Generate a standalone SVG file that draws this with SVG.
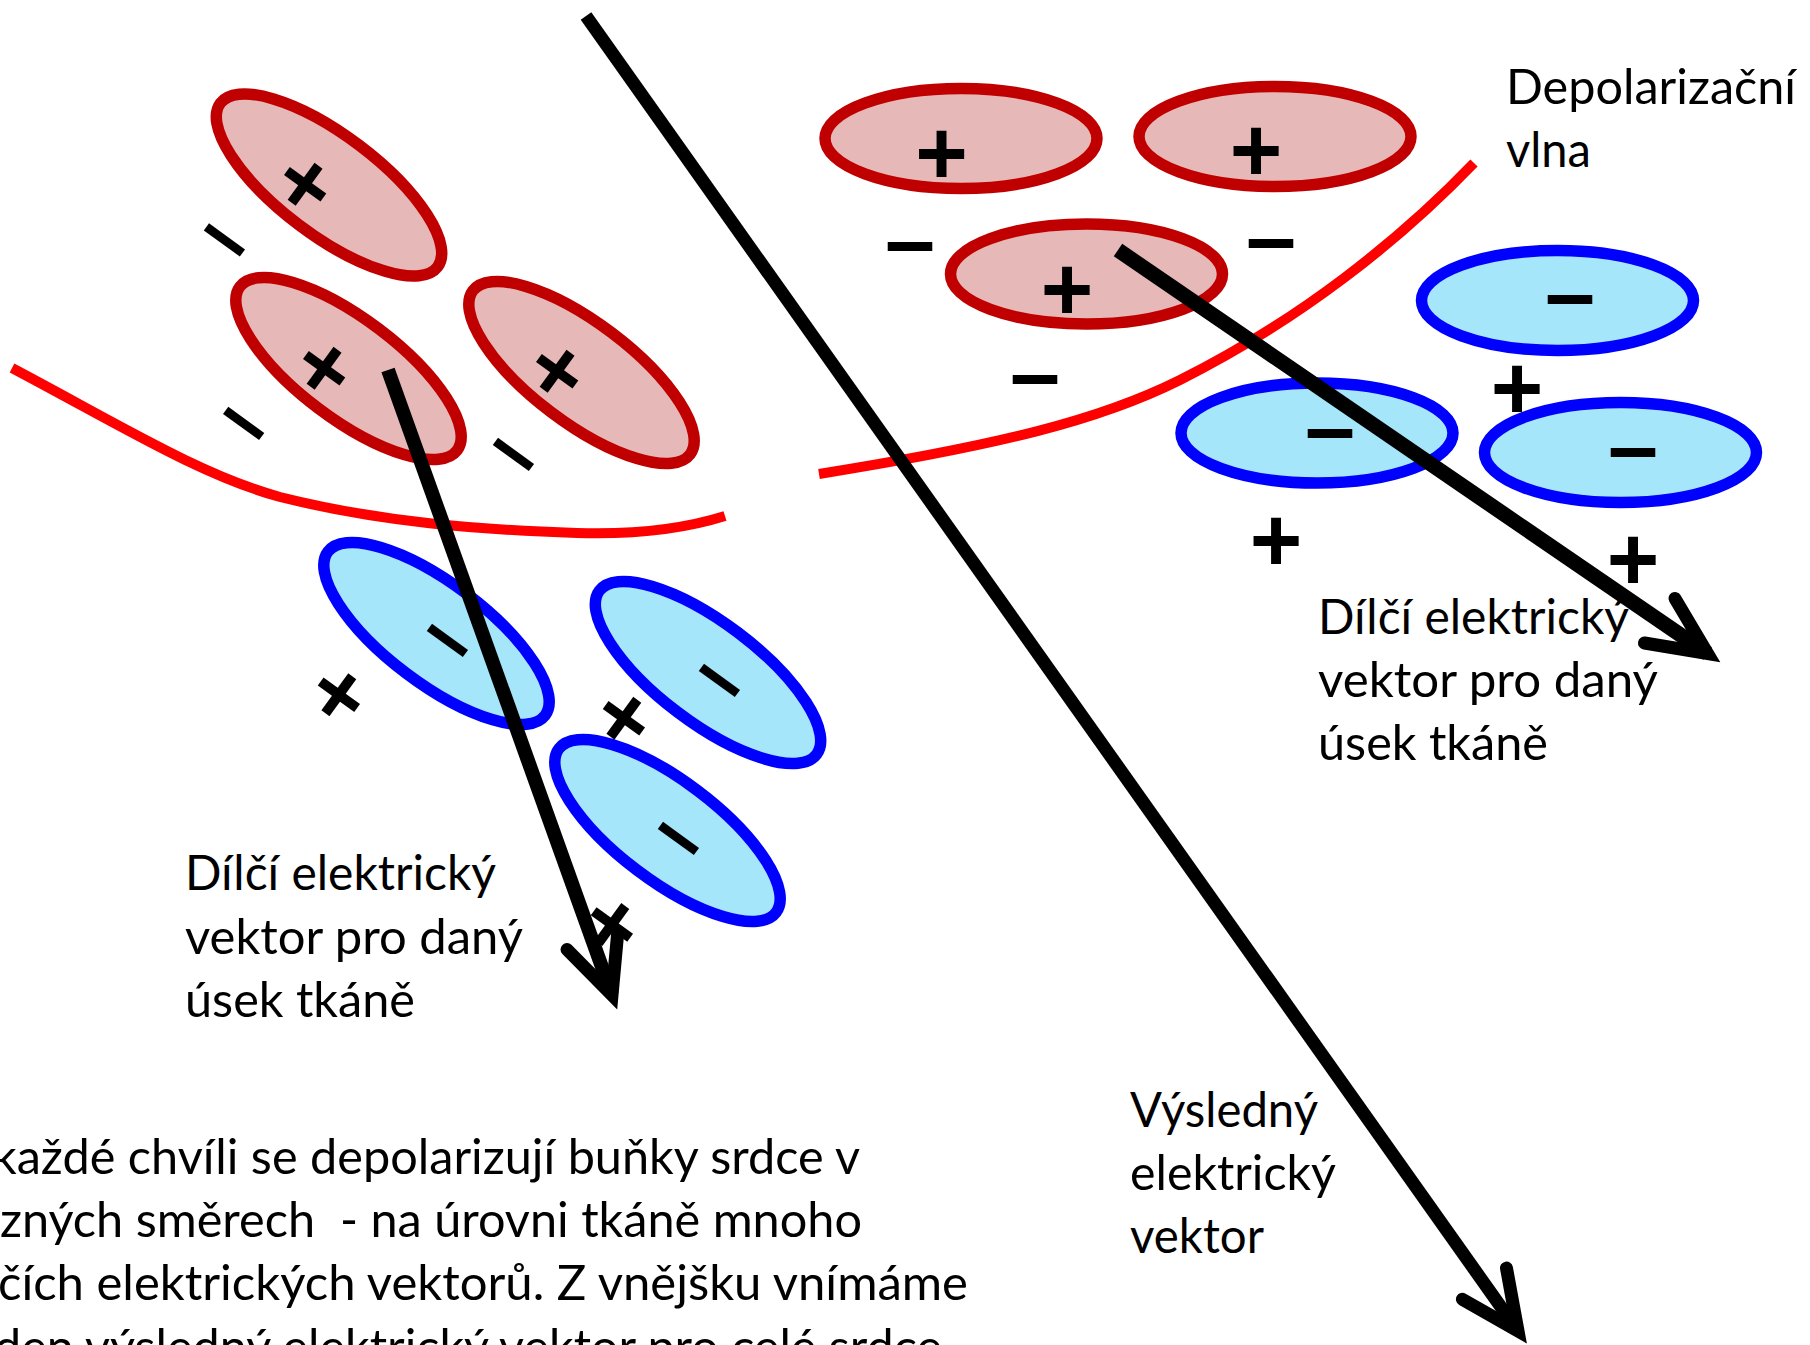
<svg xmlns="http://www.w3.org/2000/svg" width="1810" height="1345" viewBox="0 0 1810 1345">
<style>
.red{fill:#E6B9B8;stroke:#C00000;stroke-width:11.5}
.blue{fill:#A6E6FB;stroke:#0000FF;stroke-width:11.5}
.sg{font-family:"Liberation Sans",Arial,sans-serif;font-weight:bold;font-size:90px;text-anchor:middle;fill:#000}
.lbl{font-family:Lato,"Liberation Sans",sans-serif;font-size:48px;fill:#000}
.wave{fill:none;stroke:#FF0000;stroke-width:10}
.vec{fill:none;stroke:#000;stroke-linecap:butt;marker-end:url(#head)}
</style>
<defs>
<marker id="head" markerUnits="userSpaceOnUse" orient="auto" refX="0" refY="0" markerWidth="10" markerHeight="10" overflow="visible">
<path d="M -58 -27 L 0 0 L -58 27" fill="none" stroke="#000" stroke-width="13" stroke-linecap="round" stroke-linejoin="miter"/>
</marker>
</defs>
<rect width="1810" height="1345" fill="#fff"/>

<g id="waves">
<path class="wave" d="M 12 368 C 120 425, 200 475, 280 497 C 380 522, 480 530, 577 533 C 640 535, 690 527, 725 516"/>
<path class="wave" d="M 819 474 C 1000 445, 1100 420, 1180 380 C 1300 320, 1400 240, 1474 163"/>
</g>

<g id="cell-left-red-1"><ellipse class="red" cx="329" cy="185" rx="136" ry="50" transform="rotate(37 329 185)"/><text class="sg" x="306" y="214.5" transform="rotate(36 306 183)">+</text></g>
<g id="cell-left-red-2"><ellipse class="red" cx="348.5" cy="368.5" rx="136" ry="50" transform="rotate(37 348.5 368.5)"/><text class="sg" x="325" y="398.5" transform="rotate(36 325 367)">+</text></g>
<g id="cell-left-red-3"><ellipse class="red" cx="581.5" cy="372.5" rx="136" ry="50" transform="rotate(37 581.5 372.5)"/><text class="sg" x="558" y="401.5" transform="rotate(36 558 370)">+</text></g>
<g id="cell-left-blue-1"><ellipse class="blue" cx="436.5" cy="633.5" rx="136" ry="50" transform="rotate(37 436.5 633.5)"/><text class="sg" x="447" y="664.5" transform="rotate(36 447 641)">–</text></g>
<g id="cell-left-blue-2"><ellipse class="blue" cx="708" cy="672.5" rx="136" ry="50" transform="rotate(37 708 672.5)"/><text class="sg" x="719" y="704.5" transform="rotate(36 719 681)">–</text></g>
<g id="cell-left-blue-3"><ellipse class="blue" cx="667.5" cy="830.5" rx="136" ry="50" transform="rotate(37 667.5 830.5)"/><text class="sg" x="678" y="862.5" transform="rotate(36 678 839)">–</text></g>

<g id="charges-left">
<text class="sg" x="224" y="264" transform="rotate(36 224 240.7)">–</text>
<text class="sg" x="243.3" y="447.4" transform="rotate(36 243.3 424)">–</text>
<text class="sg" x="513" y="478.4" transform="rotate(36 513 455)">–</text>
<text class="sg" x="340" y="725" transform="rotate(36 340 693.3)">+</text>
<text class="sg" x="625" y="748.4" transform="rotate(36 625 716.7)">+</text>
<text class="sg" x="613" y="954.7" transform="rotate(36 613 923)">+</text>
</g>

<g id="cell-right-red-1"><ellipse class="red" cx="961" cy="138.5" rx="136" ry="50"/><text class="sg" x="941.5" y="183.7">+</text></g>
<g id="cell-right-red-2"><ellipse class="red" cx="1275" cy="136.5" rx="136" ry="50"/><text class="sg" x="1256" y="180.7">+</text></g>
<g id="cell-right-red-3"><ellipse class="red" cx="1086.5" cy="274" rx="136" ry="50"/><text class="sg" x="1067" y="319.7">+</text></g>
<g id="cell-right-blue-1"><ellipse class="blue" cx="1557.5" cy="300.5" rx="136" ry="50"/><text class="sg" x="1570" y="324.4">–</text></g>
<g id="cell-right-blue-2"><ellipse class="blue" cx="1317" cy="433" rx="136" ry="50"/><text class="sg" x="1330" y="458.4">–</text></g>
<g id="cell-right-blue-3"><ellipse class="blue" cx="1620.5" cy="452.5" rx="136" ry="50"/><text class="sg" x="1633" y="476.9">–</text></g>

<g id="charges-right">
<text class="sg" x="910" y="271.4">–</text>
<text class="sg" x="1271" y="267.9">–</text>
<text class="sg" x="1035" y="404.4">–</text>
<text class="sg" x="1517" y="418.7">+</text>
<text class="sg" x="1276" y="570.7">+</text>
<text class="sg" x="1633" y="589.7">+</text>
</g>

<g id="connectors">
<path class="vec" stroke-width="13" d="M 586 16 L 1518 1331"/>
<path class="vec" stroke-width="14" d="M 388 370 L 612 995"/>
<path class="vec" stroke-width="15" d="M 1118 250 L 1707.6 653.5"/>
</g>

<g id="labels">
<text class="lbl" x="1506" y="104" textLength="290" lengthAdjust="spacingAndGlyphs">Depolarizační</text>
<text class="lbl" x="1506" y="167" textLength="85" lengthAdjust="spacingAndGlyphs">vlna</text>
<text class="lbl" x="185" y="890" textLength="311" lengthAdjust="spacingAndGlyphs">Dílčí elektrický</text>
<text class="lbl" x="185" y="954" textLength="338" lengthAdjust="spacingAndGlyphs">vektor pro daný</text>
<text class="lbl" x="185" y="1017" textLength="230" lengthAdjust="spacingAndGlyphs">úsek tkáně</text>
<text class="lbl" x="1318" y="634" textLength="311" lengthAdjust="spacingAndGlyphs">Dílčí elektrický</text>
<text class="lbl" x="1318" y="697" textLength="340" lengthAdjust="spacingAndGlyphs">vektor pro daný</text>
<text class="lbl" x="1318" y="760" textLength="230" lengthAdjust="spacingAndGlyphs">úsek tkáně</text>
<text class="lbl" x="1130" y="1127" textLength="188" lengthAdjust="spacingAndGlyphs">Výsledný</text>
<text class="lbl" x="1130" y="1190" textLength="206" lengthAdjust="spacingAndGlyphs">elektrický</text>
<text class="lbl" x="1130" y="1253" textLength="134" lengthAdjust="spacingAndGlyphs">vektor</text>
<text class="lbl" x="-8" y="1174" textLength="868" lengthAdjust="spacingAndGlyphs">každé chvíli se depolarizují buňky srdce v</text>
<text class="lbl" x="0" y="1237" textLength="862" lengthAdjust="spacingAndGlyphs" style="white-space:pre">zných směrech  - na úrovni tkáně mnoho</text>
<text class="lbl" x="-2" y="1300" textLength="970" lengthAdjust="spacingAndGlyphs">čích elektrických vektorů. Z vnějšku vnímáme</text>
<text class="lbl" x="-6" y="1364" textLength="948" lengthAdjust="spacingAndGlyphs">den výsledný elektrický vektor pro celé srdce</text>
</g>
</svg>
